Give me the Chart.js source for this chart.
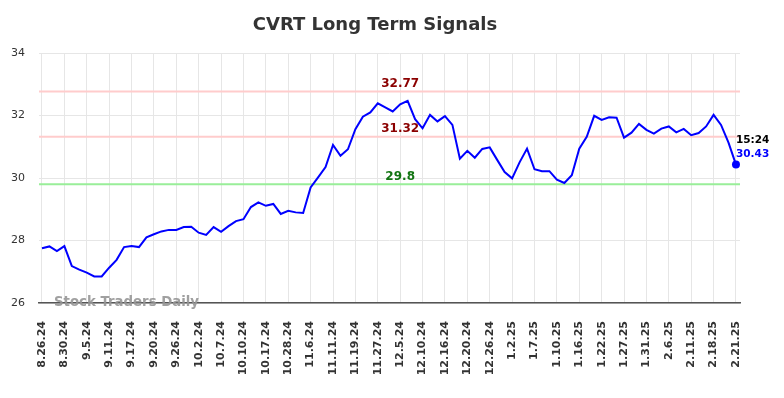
<!DOCTYPE html>
<html>
<head>
<meta charset="utf-8">
<script src="https://cdn.jsdelivr.net/npm/chart.js@4/dist/chart.umd.min.js"></script>
<style>
  html, body { margin: 0; padding: 0; background: #fff; }
  canvas { display: block; }
</style>
</head>
<body>
<canvas id="signalChart" width="784" height="398"></canvas>
<script>
const dates = ['8.26.24','8.30.24','9.5.24','9.11.24','9.17.24','9.20.24','9.26.24','10.2.24',
  '10.7.24','10.10.24','10.17.24','10.28.24','11.6.24','11.11.24','11.19.24','11.27.24',
  '12.5.24','12.10.24','12.16.24','12.20.24','12.26.24','1.2.25','1.7.25','1.10.25',
  '1.16.25','1.22.25','1.27.25','1.31.25','2.6.25','2.11.25','2.18.25','2.21.25'];

const prices = [
  27.75, 27.81, 27.66, 27.82, 27.18, 27.07, 26.97, 26.85, 26.85, 27.13,
  27.38, 27.79, 27.82, 27.79, 28.10, 28.20, 28.29, 28.34, 28.34, 28.43,
  28.44, 28.25, 28.18, 28.43, 28.28, 28.46, 28.62, 28.68, 29.07, 29.22,
  29.11, 29.17, 28.85, 28.95, 28.90, 28.88, 29.70, 30.02, 30.35, 31.06,
  30.71, 30.92, 31.56, 31.96, 32.10, 32.39, 32.26, 32.13, 32.36, 32.47,
  31.88, 31.59, 32.02, 31.81, 31.98, 31.70, 30.62, 30.87, 30.65, 30.93,
  30.98, 30.58, 30.19, 29.99, 30.50, 30.94, 30.28, 30.22, 30.22, 29.95,
  29.84, 30.09, 30.94, 31.32, 31.99, 31.86, 31.94, 31.93, 31.29, 31.45,
  31.73, 31.54, 31.42, 31.58, 31.65, 31.46, 31.57, 31.37, 31.44, 31.65,
  32.02, 31.70, 31.13, 30.43
];

const resistance = [32.77, 31.32];
const support = [29.8];
const yTicks = [26, 28, 30, 32, 34];
const lastTime = '15:24';

const FONT = 'DejaVu Sans';
const step = (prices.length - 1) / (dates.length - 1); // points between date labels
const lastIdx = prices.length - 1;

// pink / green levels + their labels, watermark, last value tag
const levelsPlugin = {
  id: 'levels',
  beforeDatasetsDraw(chart) {
    const { ctx, chartArea: a, scales: { y } } = chart;
    ctx.save();
    ctx.lineWidth = 2;
    const drawLine = (v, color) => {
      const py = y.getPixelForValue(v);
      ctx.strokeStyle = color;
      ctx.beginPath();
      ctx.moveTo(a.left, py);
      ctx.lineTo(a.right, py);
      ctx.stroke();
    };
    resistance.forEach(v => drawLine(v, '#ffcccc'));
    support.forEach(v => drawLine(v, '#99ee99'));
    ctx.restore();
  },
  afterDatasetsDraw(chart) {
    const { ctx, chartArea: a, scales: { x, y } } = chart;
    ctx.save();
    ctx.font = 'bold 12px ' + FONT;
    ctx.textAlign = 'center';
    ctx.textBaseline = 'middle';
    const lx = x.getPixelForValue(48);
    resistance.forEach(v => {
      ctx.fillStyle = '#8b0000';
      ctx.fillText(String(v), lx, y.getPixelForValue(v) - 7.5);
    });
    support.forEach(v => {
      ctx.fillStyle = '#127512';
      ctx.fillText(String(v), lx, y.getPixelForValue(v) - 7.5);
    });

    // watermark
    ctx.font = 'bold 13.3px ' + FONT;
    ctx.textAlign = 'left';
    ctx.fillStyle = 'rgba(150,150,150,0.9)';
    ctx.fillText('Stock Traders Daily', a.left + 15, a.bottom - 0.5);

    // last value tag
    const px = x.getPixelForValue(lastIdx);
    const py = y.getPixelForValue(prices[lastIdx]);
    ctx.font = 'bold 10.5px ' + FONT;
    ctx.fillStyle = '#000';
    ctx.fillText(lastTime, px, py - 24);
    ctx.fillStyle = '#0000ff';
    ctx.fillText(prices[lastIdx].toFixed(2), px, py - 10);
    ctx.restore();
  }
};

new Chart(document.getElementById('signalChart'), {
  type: 'line',
  data: {
    datasets: [{
      data: prices.map((v, i) => ({ x: i, y: v })),
      borderColor: '#0000ff',
      borderWidth: 2,
      tension: 0,
      pointRadius: c => c.dataIndex === lastIdx ? 4 : 0,
      pointBackgroundColor: '#0000ff',
      pointBorderWidth: 0,
      fill: false
    }]
  },
  options: {
    responsive: false,
    animation: false,
    devicePixelRatio: 1,
    layout: { padding: { left: 10, right: 44, top: 0, bottom: 0 } },
    plugins: {
      legend: { display: false },
      tooltip: { enabled: false },
      title: {
        display: true,
        text: 'CVRT Long Term Signals',
        color: '#333',
        font: { family: FONT, size: 18, weight: 'bold' },
        padding: { top: 15, bottom: 16.4 }
      }
    },
    scales: {
      x: {
        type: 'linear',
        min: -0.4,
        max: lastIdx + 0.54,
        afterBuildTicks: s => { s.ticks = dates.map((d, i) => ({ value: i * step })); },
        afterFit: s => { s.height = 95; },
        ticks: {
          autoSkip: false,
          minRotation: 90,
          maxRotation: 90,
          padding: 18,
          color: '#333',
          font: { family: FONT, size: 11, weight: 'bold' },
          callback: (v, i) => dates[i]
        },
        grid: { color: '#e6e6e6', drawTicks: false },
        border: { color: '#555', width: 1.5 }
      },
      y: {
        min: 26,
        max: 34,
        afterBuildTicks: s => { s.ticks = yTicks.map(v => ({ value: v })); },
        afterFit: s => { s.width = 29; },
        ticks: {
          padding: 14,
          color: '#333',
          font: { family: FONT, size: 11 }
        },
        grid: { color: '#e6e6e6', drawTicks: false },
        border: { display: false }
      }
    }
  },
  plugins: [levelsPlugin]
});
</script>
</body>
</html>
